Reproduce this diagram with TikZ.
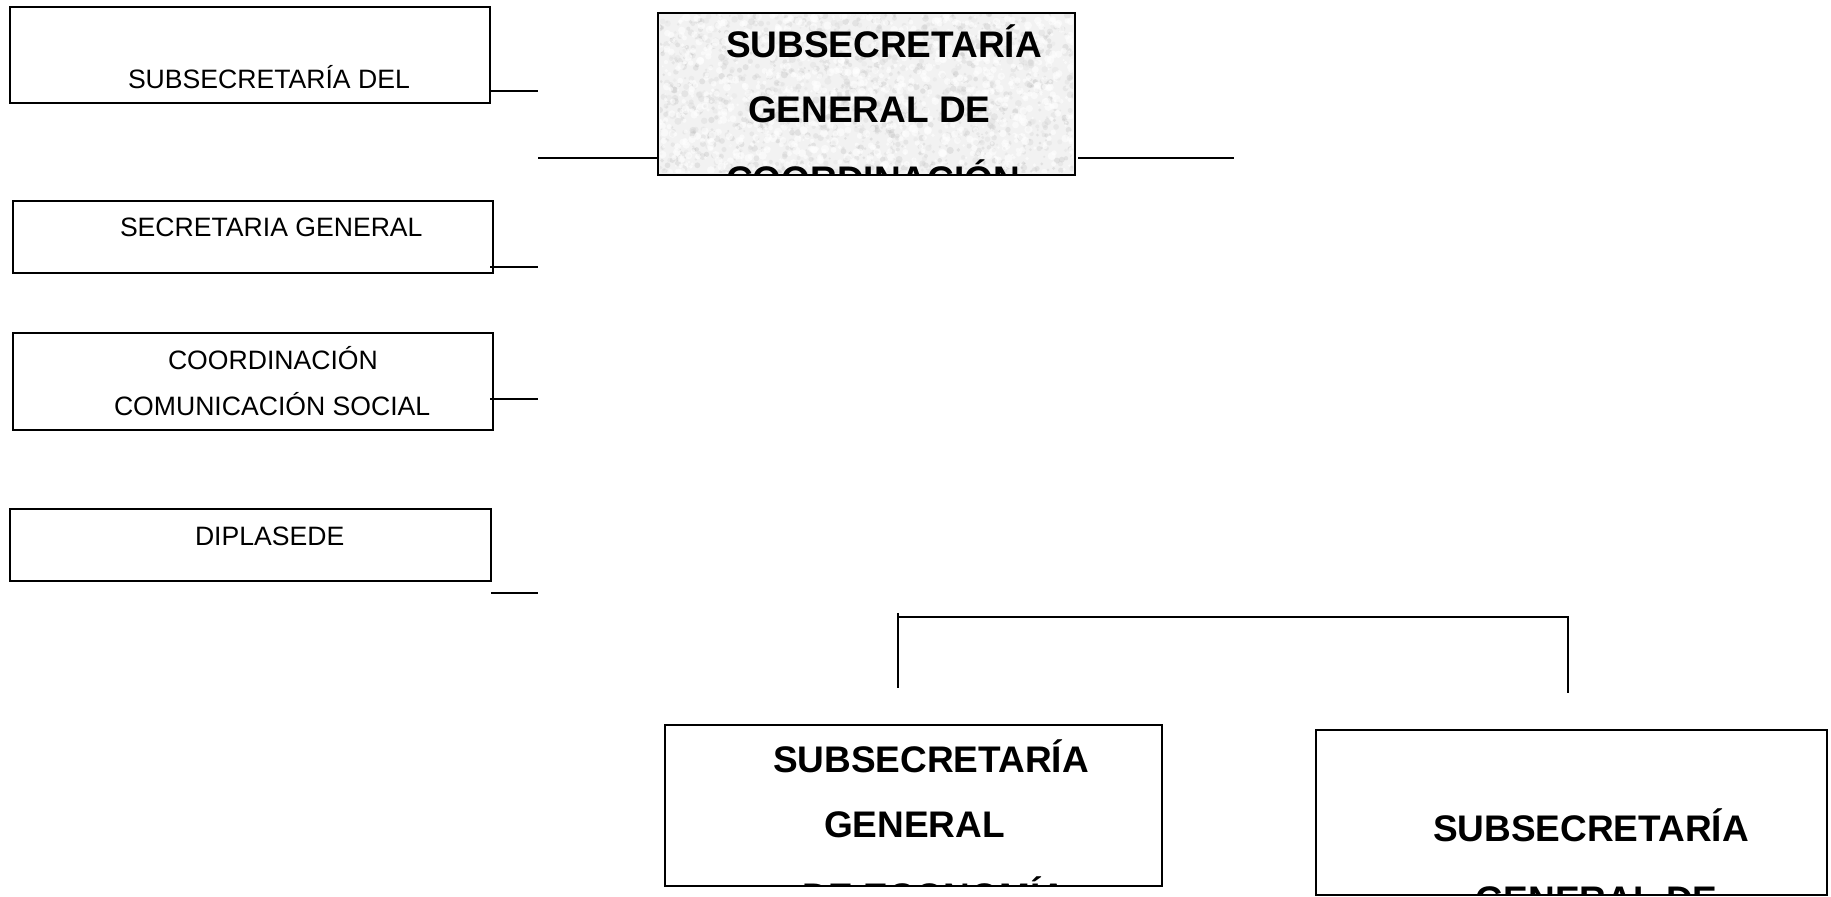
\documentclass[tikz,border=0pt]{standalone}
\usepackage{fontspec}
\setmainfont{Liberation Sans}
\begin{document}
\begin{tikzpicture}[x=0.5pt,y=-0.5pt,
  box/.style={draw=black, line width=1pt, rectangle, inner sep=0pt, outer sep=0pt},
  lbl/.style={anchor=base west, inner sep=0pt, outer sep=0pt, font=\fontsize{13.3}{16}\selectfont},
  big/.style={anchor=base west, inner sep=0pt, outer sep=0pt, font=\fontsize{18.5}{20}\selectfont\bfseries},
  wire/.style={line width=0.9pt}]
\useasboundingbox (0,0) rectangle (1831,897);

% left column of units
\node[box, minimum width=240pt, minimum height=48pt] (b1) at (250,55) {};
\node[box, minimum width=240pt, minimum height=36pt] (b2) at (253,237) {};
\node[box, minimum width=240pt, minimum height=48.5pt] (b3) at (253,381.5) {};
\node[box, minimum width=240.5pt, minimum height=36pt] (b4) at (250.5,545) {};

\node[lbl] (t1) at (128,89) {SUBSECRETARÍA DEL};
\node[lbl] (t2) at (120,237) {SECRETARIA GENERAL};
\node[lbl] (t3a) at (168,370) {COORDINACIÓN};
\node[lbl] (t3b) at (114,416) {COMUNICACIÓN SOCIAL};
\node[lbl] (t4) at (195,546) {DIPLASEDE};

% short stubs to the right of the left column
\coordinate (s1) at (538,91);
\coordinate (s2) at (538,267);
\coordinate (s3) at (538,399);
\coordinate (s4) at (538,593);
\draw[wire] (b1.east |- s1) -- (s1);
\draw[wire] ([xshift=-1.5pt]b2.east |- s2) -- (s2);
\draw[wire] ([xshift=-1.5pt]b3.east |- s3) -- (s3);
\draw[wire] (b4.east |- s4) -- (s4);

% central unit with granite texture
\node[box, fill=gray!10, minimum width=208.5pt, minimum height=81pt] (main) at (866.5,94) {};
\begin{scope}
  \clip ([shift={(1pt,-1pt)}]main.north west) rectangle ([shift={(-1pt,1pt)}]main.south east);
  \pgfmathsetseed{7}
  \foreach \k in {1,...,1500} {
    \pgfmathsetmacro{\px}{659+416*rnd}
    \pgfmathsetmacro{\py}{14+160*rnd}
    \pgfmathsetmacro{\pr}{0.5+1.3*rnd}
    \pgfmathsetmacro{\pc}{12+16*rnd}
    \fill[black!\pc, opacity=0.3] (\px,\py) circle[radius=\pr pt];
  }
  \foreach \k in {1,...,1100} {
    \pgfmathsetmacro{\px}{659+416*rnd}
    \pgfmathsetmacro{\py}{14+160*rnd}
    \pgfmathsetmacro{\pr}{0.5+1.6*rnd}
    \fill[white, opacity=0.55] (\px,\py) circle[radius=\pr pt];
  }
\end{scope}
\begin{scope}
  \clip (main.north west) rectangle (main.south east);
  \node[big] (m1) at (726,58) {SUBSECRETARÍA};
  \node[big] (m2) at (748,123) {GENERAL DE};
  \node[big] (m3) at (726,193) {COORDINACIÓN};
\end{scope}
\draw[line width=1pt] (main.north west) rectangle (main.south east);

% horizontal lines beside the central unit
\coordinate (hl) at (538,158);
\coordinate (hr) at (1234,158);
\draw[wire] (hl) -- (main.west |- hl);
\draw[wire] ([xshift=1.5pt]main.east |- hr) -- (hr);

% bracket over the two lower units
\coordinate (brLt) at (898,613);
\coordinate (brL) at (898,617);
\coordinate (brLe) at (898,688);
\coordinate (brR) at (1568,617);
\coordinate (brRe) at (1568,693);
\draw[wire] (brLt) -- (brLe);
\draw[wire] (brL) -- (brR) -- (brRe);

% lower units
\node[box, minimum width=248.5pt, minimum height=80.5pt] (eco) at (913.5,805.5) {};
\node[box, minimum width=255.5pt, minimum height=82.5pt] (gen) at (1571.5,812.5) {};
\begin{scope}
  \clip (eco.north west) rectangle (eco.south east);
  \node[big] (e1) at (773,772) {SUBSECRETARÍA};
  \node[big] (e2) at (824,837) {GENERAL};
  \node[big] (e3) at (802,909) {DE ECONOMÍA};
\end{scope}
\begin{scope}
  \clip (gen.north west) rectangle (gen.south east);
  \node[big] (g1) at (1433,841) {SUBSECRETARÍA};
  \node[big] (g2) at (1475,912) {GENERAL DE};
\end{scope}
\end{tikzpicture}
\end{document}
